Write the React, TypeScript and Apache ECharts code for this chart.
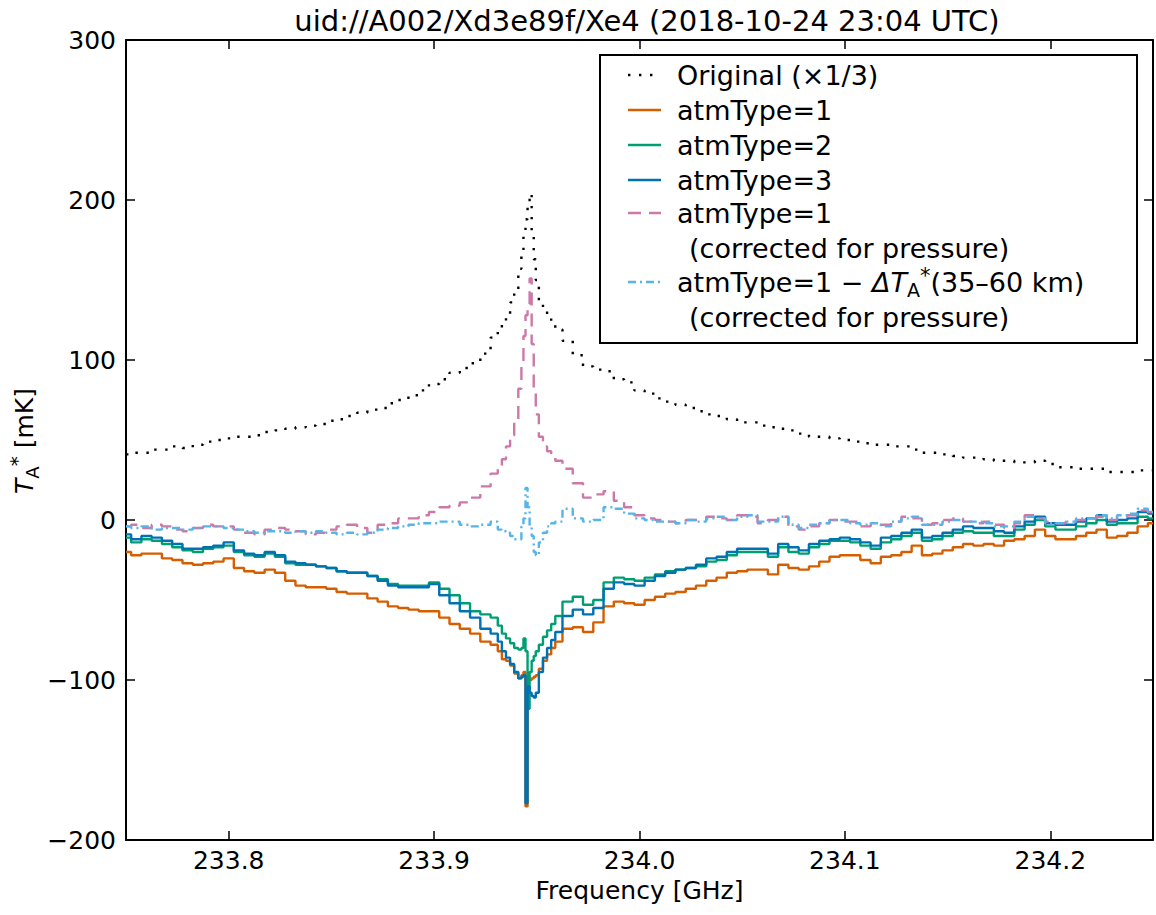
import React, { useEffect, useRef } from 'react';
import * as echarts from 'echarts';

// Frequency grid (GHz): coarse outside the line core, finer in the core
const freqGHz = [
  233.750, 233.755, 233.760, 233.765, 233.770, 233.775, 233.780, 233.785, 233.790, 233.795,
  233.800, 233.805, 233.810, 233.815, 233.820, 233.825, 233.830, 233.835, 233.840, 233.845,
  233.850, 233.855, 233.860, 233.865, 233.870, 233.875, 233.880, 233.885, 233.890, 233.895,
  233.900, 233.905, 233.910, 233.915, 233.920, 233.925, 233.930,
  233.932, 233.934, 233.936, 233.938, 233.940, 233.942,
  233.943, 233.944, 233.945, 233.946, 233.947, 233.948, 233.949, 233.950,
  233.952, 233.954, 233.956, 233.958, 233.960,
  233.965, 233.970, 233.975, 233.980, 233.985, 233.990, 233.995,
  234.000, 234.005, 234.010, 234.015, 234.020, 234.025, 234.030, 234.035, 234.040, 234.045,
  234.050, 234.055, 234.060, 234.065, 234.070, 234.075, 234.080, 234.085, 234.090, 234.095,
  234.100, 234.105, 234.110, 234.115, 234.120, 234.125, 234.130, 234.135, 234.140, 234.145,
  234.150, 234.155, 234.160, 234.165, 234.170, 234.175, 234.180, 234.185, 234.190, 234.195,
  234.200, 234.205, 234.210, 234.215, 234.220, 234.225, 234.230, 234.235, 234.240, 234.245, 234.250,
];

// Original (x1/3), mK
const original = [
  41, 42, 42, 44, 44, 46, 45, 47, 49, 50,
  51, 52, 52, 53, 55, 56, 57, 58, 59, 60,
  62, 63, 65, 67, 69, 70, 73, 75, 78, 81,
  85, 88, 92, 95, 98, 104, 114,
  120, 123, 128, 136, 143, 157,
  167, 178, 188, 196, 204, 180, 163, 150,
  137, 131, 126, 122, 119,
  112, 103, 96, 94, 93, 88, 86,
  81, 79, 76, 74, 72, 70, 68, 66, 65, 63,
  61, 61, 59, 58, 57, 56, 54, 52, 52, 51,
  50, 49, 48, 47, 47, 46, 46, 44, 42, 42,
  41, 40, 39, 39, 38, 37, 37, 36, 36, 37,
  35, 33, 33, 32, 32, 32, 30, 30, 30, 31, 31,
];

// atmType=1
const atm1 = [
  -20, -22, -21, -21, -24, -25, -27, -28, -27, -26,
  -24, -30, -32, -33, -31, -33, -38, -41, -42, -42,
  -43, -45, -46, -46, -49, -51, -54, -55, -56, -57,
  -57, -61, -65, -68, -71, -76, -78,
  -82, -87, -88, -91, -96, -99,
  -97, -95, -179, -98, -100, -99, -98, -97,
  -93, -88, -84, -80, -76,
  -68, -67, -70, -64, -54, -51, -52,
  -53, -50, -48, -46, -45, -43, -41, -38, -36, -33,
  -32, -31, -31, -34, -28, -30, -31, -29, -26, -23,
  -22, -22, -25, -27, -23, -22, -20, -16, -22, -21,
  -19, -17, -15, -16, -15, -16, -13, -12, -10, -6,
  -10, -12, -12, -10, -8, -6, -11, -10, -8, -4, -2,
];

// atmType=2
const atm2 = [
  -11, -14, -12, -13, -15, -17, -19, -20, -18, -17,
  -16, -20, -22, -23, -21, -23, -27, -28, -28, -29,
  -30, -32, -33, -33, -35, -37, -40, -41, -41, -41,
  -39, -43, -47, -52, -57, -59, -61,
  -66, -71, -74, -77, -80, -81,
  -80, -74, -82, -118, -95, -88, -85, -82,
  -78, -73, -69, -65, -60,
  -51, -48, -53, -50, -39, -36, -37,
  -38, -36, -34, -32, -31, -30, -29, -26, -25, -22,
  -20, -20, -20, -23, -17, -20, -21, -17, -15, -13,
  -13, -14, -16, -18, -14, -12, -10, -8, -13, -12,
  -10, -8, -7, -8, -8, -10, -10, -6, -3, 0,
  -4, -6, -6, -4, -2, 0, -3, -2, -2, 2, 1,
];

// atmType=3
const atm3 = [
  -9, -12, -10, -11, -13, -15, -18, -18, -17, -16,
  -14, -19, -21, -22, -20, -22, -26, -27, -28, -29,
  -30, -32, -33, -33, -35, -38, -41, -42, -42, -42,
  -40, -47, -52, -57, -61, -68, -71,
  -76, -82, -86, -90, -95, -99,
  -98, -97, -177, -104, -108, -110, -111, -108,
  -95, -86, -80, -75, -70,
  -60, -56, -59, -55, -43, -39, -40,
  -41, -38, -35, -33, -31, -30, -28, -24, -23, -20,
  -18, -18, -18, -21, -15, -17, -19, -15, -13, -12,
  -11, -12, -14, -16, -11, -10, -8, -6, -11, -10,
  -8, -6, -4, -5, -5, -7, -8, -4, -1, 2,
  -2, -3, -3, -1, 1, 3, -1, 0, 1, 5, 4,
];

// atmType=1 corrected for pressure
const atm1Corr = [
  -4, -3, -5, -3, -4, -6, -7, -5, -3, -4,
  -4, -6, -8, -9, -6, -5, -6, -7, -9, -8,
  -6, -4, -3, -5, -8, -3, -2, 1, 1, 3,
  5, 8, 9, 11, 14, 21, 29,
  33, 38, 46, 53, 62, 82,
  96, 115, 128, 135, 151, 110, 82, 66,
  52, 46, 43, 40, 37,
  32, 23, 14, 16, 18, 12, 8,
  3, 1, 0, -1, -2, 0, 0, 2, 1, 0,
  3, 2, -2, 0, 2, -4, -6, -4, -2, 0,
  -1, -1, -4, -3, -3, -1, 2, 1, -3, -2,
  0, 1, -1, -2, -1, -3, -5, -2, 3, 1,
  -1, -2, -1, 0, 1, 2, 0, 2, 3, 6, 5,
];

// atmType=1 - dTA*(35-60 km), corrected for pressure
const atm1Resid = [
  -4, -5, -4, -6, -5, -5, -6, -5, -4, -4,
  -5, -6, -7, -8, -7, -7, -8, -7, -8, -7,
  -8, -9, -8, -9, -8, -6, -5, -4, -3, -2,
  -2, -1, -1, -3, -4, -3, -1,
  -6, -7, -8, -10, -12, -12,
  -4, 1, 20, 8, -4, -10, -20, -22,
  -14, -8, -4, -2, -1,
  7, 1, -1, 0, 8, 7, 4,
  1, 0, -1, -1, -2, 0, -1, 1, 2, 0,
  2, 3, -1, -1, 2, -3, -5, -3, -2, 0,
  0, -2, -3, -2, -4, -1, 1, 2, -3, -3,
  -1, 0, -1, -1, -2, -4, -4, -1, 2, 1,
  -2, -2, -1, 1, 1, 3, 1, 3, 4, 7, 5,
];

const xTicks = [233.8, 233.9, 234.0, 234.1, 234.2];
const yMin = -200;
const yMax = 300;
const yStep = 100;

const FONT = '"DejaVu Sans", "Liberation Sans", sans-serif';
const TITLE = 'uid://A002/Xd3e89f/Xe4 (2018-10-24 23:04 UTC)';

export default function App() {
  const ref = useRef<HTMLDivElement>(null);

  useEffect(() => {
    if (!ref.current) return;
    const chart = echarts.init(ref.current, null, { renderer: 'svg' });

    const pairs = (vals: number[]) => freqGHz.map((f, i) => [f, vals[i]]);

    const defs = [
      { name: 'Original (×1/3)', vals: original, color: '#000000', dash: [2.4, 8.6] as any, width: 2.4 },
      { name: 'atmType=1', vals: atm1, color: '#D55E00', dash: 'solid' as any, width: 2.4 },
      { name: 'atmType=2', vals: atm2, color: '#009E73', dash: 'solid' as any, width: 2.4 },
      { name: 'atmType=3', vals: atm3, color: '#0072B2', dash: 'solid' as any, width: 2.4 },
      { name: 'atmType=1 (corrected for pressure)', vals: atm1Corr, color: '#CC79A7', dash: [13, 8] as any, width: 2.4 },
      { name: 'atmType=1 − ΔTA*(35–60 km) (corrected for pressure)', vals: atm1Resid, color: '#56B4E9', dash: [8, 4, 2, 4] as any, width: 2.4 },
    ];

    const series = defs.map((d, i) => ({
      type: 'line',
      name: d.name,
      data: pairs(d.vals),
      step: 'middle',
      symbol: 'none',
      showSymbol: false,
      silent: true,
      clip: true,
      z: 2 + i,
      lineStyle: { color: d.color, width: d.width, type: d.dash, cap: 'butt' },
      itemStyle: { color: d.color },
    }));

    // Legend drawn as graphic
    const lx = 600, ly = 55, lw = 537, lh = 288;
    const rowY = [75, 110, 145, 180, 213, 248, 282, 317];
    const sx1 = 628, sx2 = 661, tx = 677;
    const legendFont = `27px ${FONT}`;
    const legendEls: any[] = [
      {
        type: 'rect',
        shape: { x: lx, y: ly, width: lw, height: lh },
        style: { fill: '#ffffff', stroke: '#000000', lineWidth: 2 },
        z: 100,
      },
    ];
    const sampleRows = [0, 1, 2, 3, 4, 6];
    defs.forEach((d, i) => {
      const y = rowY[sampleRows[i]];
      legendEls.push({
        type: 'line',
        shape: { x1: sx1, y1: y, x2: sx2, y2: y },
        style: {
          stroke: d.color,
          lineWidth: 2.4,
          lineDash: Array.isArray(d.dash) ? d.dash : null,
        },
        z: 101,
      });
    });
    const plainTexts: [string, number, number][] = [
      ['Original (×1/3)', rowY[0], tx],
      ['atmType=1', rowY[1], tx],
      ['atmType=2', rowY[2], tx],
      ['atmType=3', rowY[3], tx],
      ['atmType=1', rowY[4], tx],
      ['(corrected for pressure)', rowY[5], tx + 12],
      ['(corrected for pressure)', rowY[7], tx + 12],
    ];
    plainTexts.forEach(([t, y, x]) => {
      legendEls.push({
        type: 'text',
        x,
        y,
        style: {
          text: t,
          font: legendFont,
          fill: '#000000',
          align: 'left',
          verticalAlign: 'middle',
          textAlign: 'left',
          textVerticalAlign: 'middle',
        },
        z: 101,
      });
    });
    legendEls.push({
      type: 'text',
      x: tx,
      y: rowY[6],
      style: {
        text: '{n|atmType=1 − }{i|ΔT}{sub|A}{sup|*}{n|(35–60 km)}',
        font: legendFont,
        fill: '#000000',
        align: 'left',
        verticalAlign: 'middle',
        textAlign: 'left',
        textVerticalAlign: 'middle',
        rich: {
          n: { fontSize: 27, fontFamily: FONT, fill: '#000', color: '#000', lineHeight: 34, verticalAlign: 'middle' },
          i: { fontSize: 27, fontFamily: FONT, fontStyle: 'italic', fill: '#000', color: '#000', lineHeight: 34, verticalAlign: 'middle' },
          sub: { fontSize: 19, fontFamily: FONT, fill: '#000', color: '#000', lineHeight: 18, verticalAlign: 'bottom' },
          sup: { fontSize: 21, fontFamily: FONT, fill: '#000', color: '#000', lineHeight: 20, verticalAlign: 'top' },
        },
      },
      z: 101,
    });

    // Y axis title
    legendEls.push({
      type: 'text',
      x: 24,
      y: 441,
      rotation: Math.PI / 2,
      style: {
        text: '{i|T}{sub|A}{sup|*}{n| [mK]}',
        font: `25px ${FONT}`,
        fill: '#000',
        align: 'center',
        verticalAlign: 'middle',
        textAlign: 'center',
        textVerticalAlign: 'middle',
        rich: {
          n: { fontSize: 25, fontFamily: FONT, fill: '#000', color: '#000', lineHeight: 34, verticalAlign: 'middle' },
          i: { fontSize: 25, fontFamily: FONT, fontStyle: 'italic', fill: '#000', color: '#000', lineHeight: 34, verticalAlign: 'middle' },
          sub: { fontSize: 18, fontFamily: FONT, fill: '#000', color: '#000', lineHeight: 18, verticalAlign: 'bottom' },
          sup: { fontSize: 20, fontFamily: FONT, fill: '#000', color: '#000', lineHeight: 20, verticalAlign: 'top' },
        },
      },
      z: 101,
    });

    const tickStyle = { color: '#000', width: 1.5 };
    const axisLineStyle = { color: '#000', width: 2 };

    chart.setOption({
      animation: false,
      backgroundColor: '#ffffff',
      title: {
        text: TITLE,
        left: 642,
        top: 1,
        textAlign: 'center',
        textStyle: { fontFamily: FONT, fontSize: 29, fontWeight: 'normal', color: '#000' },
      },
      grid: { left: 126, right: 3, top: 40, bottom: 75, containLabel: false, outerBoundsMode: 'none' },
      xAxis: [
        {
          type: 'value',
          position: 'bottom',
          min: 233.75,
          max: 234.25,
          name: 'Frequency [GHz]',
          nameLocation: 'middle',
          nameGap: 36,
          nameTextStyle: { fontFamily: FONT, fontSize: 25, color: '#000' },
          axisLine: { show: true, onZero: false, lineStyle: axisLineStyle },
          axisTick: { show: true, inside: true, length: 9, lineStyle: tickStyle, customValues: xTicks },
          axisLabel: {
            show: true,
            customValues: xTicks,
            margin: 8,
            fontFamily: FONT,
            fontSize: 25,
            color: '#000',
            formatter: (v: number) => v.toFixed(1),
          },
          splitLine: { show: false },
        },
        {
          type: 'value',
          position: 'top',
          min: 233.75,
          max: 234.25,
          axisLine: { show: true, onZero: false, lineStyle: axisLineStyle },
          axisTick: { show: true, inside: true, length: 9, lineStyle: tickStyle, customValues: xTicks },
          axisLabel: { show: false, customValues: xTicks },
          splitLine: { show: false },
        },
      ],
      yAxis: [
        {
          type: 'value',
          position: 'left',
          min: yMin,
          max: yMax,
          interval: yStep,
          axisLine: { show: true, onZero: false, lineStyle: axisLineStyle },
          axisTick: { show: true, inside: true, length: 9, lineStyle: tickStyle },
          axisLabel: {
            show: true,
            margin: 10,
            fontFamily: FONT,
            fontSize: 25,
            color: '#000',
            formatter: (v: number) => (v < 0 ? '\u2212' + Math.abs(v) : String(v)),
          },
          splitLine: { show: false },
        },
        {
          type: 'value',
          position: 'right',
          min: yMin,
          max: yMax,
          interval: yStep,
          axisLine: { show: true, onZero: false, lineStyle: axisLineStyle },
          axisTick: { show: true, inside: true, length: 9, lineStyle: tickStyle },
          axisLabel: { show: false },
          splitLine: { show: false },
        },
      ],
      series,
      graphic: legendEls,
    });

    return () => chart.dispose();
  }, []);

  return (
    <div
      ref={ref}
      style={{ position: 'absolute', left: 0, top: 0, width: 1156, height: 915, background: '#fff' }}
    />
  );
}
